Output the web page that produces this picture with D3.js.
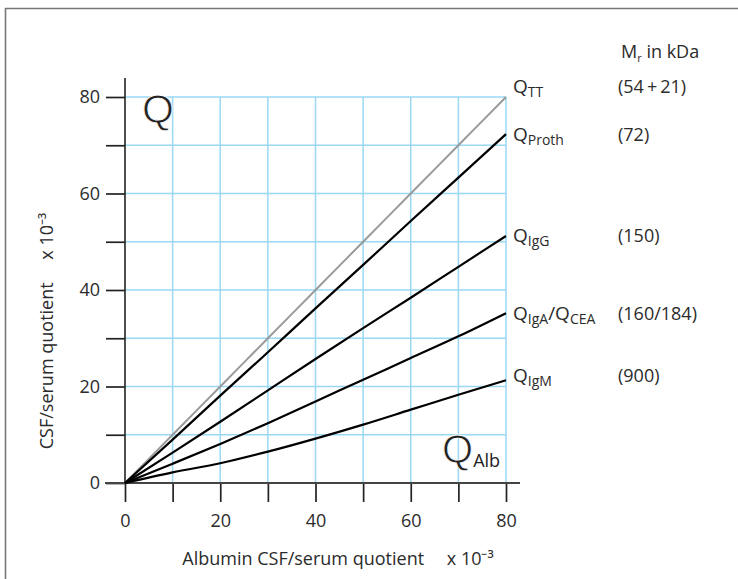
<!DOCTYPE html>
<html>
<head>
<meta charset="utf-8">
<script src="https://cdn.jsdelivr.net/npm/d3@7"></script>
<style>
  body { margin: 0; background: #fff; }
  text { font-family: "Open Sans", sans-serif; fill: #2b2b2b; }
</style>
</head>
<body>
<svg id="chart"></svg>
<script>
// albumin quotient (x 10^-3) where each curve was read
var qAlb = [0, 10, 20, 30, 40, 50, 60, 70, 80];

// protein quotients (x 10^-3)
var qTT    = [0, 10, 20, 30, 40, 50, 60, 70, 80];
var qProth = [0, 9.0, 18.1, 27.1, 36.2, 45.2, 54.3, 63.3, 72.3];
var qIgG   = [0, 6.3, 12.7, 19.2, 25.7, 32.1, 38.4, 44.8, 51.2];
var qIgA   = [0, 4.0, 8.1, 12.4, 16.9, 21.4, 25.9, 30.4, 35.2];
var qIgM   = [0, 2.2, 4.1, 6.5, 9.2, 12.1, 15.2, 18.3, 21.3];

var seriesNames = ["TT", "Proth", "IgG", "IgA", "IgM"];
var molWeights  = ["(54\u2009+\u200921)", "(72)", "(150)", "(160/184)", "(900)"];
var tickValues  = [0, 10, 20, 30, 40, 50, 60, 70, 80];

var svgWidth = 738;
var svgHeight = 579;

var svg = d3.select('#chart')
    .attr('width', svgWidth)
    .attr('height', svgHeight);

var x = d3.scaleLinear().domain([0, 80]).range([125, 506]);
var y = d3.scaleLinear().domain([0, 80]).range([483, 97]);

// frame (top and left edge only)
svg.append('path')
    .attr('d', 'M5.5,' + svgHeight + 'V8.5H' + svgWidth)
    .attr('fill', 'none')
    .attr('stroke', '#777')
    .attr('stroke-width', 1.6);

// light blue grid
var gridVals = tickValues.filter(function(d) { return d > 0; });
svg.selectAll('.vgrid').data(gridVals).enter().append('line')
    .attr('x1', function(d) { return x(d); })
    .attr('x2', function(d) { return x(d); })
    .attr('y1', y(0))
    .attr('y2', y(80))
    .attr('stroke', '#9ad8f3')
    .attr('stroke-width', 1.5);
svg.selectAll('.hgrid').data(gridVals).enter().append('line')
    .attr('y1', function(d) { return y(d); })
    .attr('y2', function(d) { return y(d); })
    .attr('x1', x(0))
    .attr('x2', x(80))
    .attr('stroke', '#9ad8f3')
    .attr('stroke-width', 1.5);

// axes
var fmt = function(d) { return d % 20 === 0 ? d : ''; };

var xAxis = svg.append('g')
    .attr('transform', 'translate(0,' + y(0) + ')')
    .call(d3.axisBottom(x).tickValues(tickValues).tickFormat(fmt)
        .tickSizeInner(19).tickSizeOuter(0).tickPadding(12));

var yAxis = svg.append('g')
    .attr('transform', 'translate(' + x(0) + ',0)')
    .call(d3.axisLeft(y).tickValues(tickValues).tickFormat(fmt)
        .tickSizeInner(19).tickSizeOuter(0).tickPadding(6));

[xAxis, yAxis].forEach(function(g) {
    g.select('.domain').remove();
    g.selectAll('.tick line').attr('stroke', '#222').attr('stroke-width', 1.7);
    g.selectAll('.tick text')
        .style('font-family', '"Open Sans", sans-serif')
        .style('font-size', '18px')
        .attr('fill', '#2b2b2b');
});

// axis lines run a bit past the plot
svg.append('line')
    .attr('x1', x(0) - 20).attr('x2', x(80) + 14)
    .attr('y1', y(0)).attr('y2', y(0))
    .attr('stroke', '#444').attr('stroke-width', 2.2);
svg.append('line')
    .attr('x1', x(0)).attr('x2', x(0))
    .attr('y1', y(0)).attr('y2', y(80) - 19)
    .attr('stroke', '#222').attr('stroke-width', 1.6);

// curves
var allSeries = [qTT, qProth, qIgG, qIgA, qIgM];
var line = d3.line()
    .x(function(d, i) { return x(qAlb[i]); })
    .y(function(d) { return y(d); })
    .curve(d3.curveMonotoneX);

svg.selectAll('.curve').data(allSeries).enter().append('path')
    .attr('d', line)
    .attr('fill', 'none')
    .attr('stroke', function(d, i) { return i === 0 ? '#9a9a9a' : '#000'; })
    .attr('stroke-width', function(d, i) { return i === 0 ? 2 : 2.2; });

// curve labels and molecular weights
var labelNudge = [-4, 7, 6, 7, 2];
var labels = svg.selectAll('.lab').data(allSeries).enter().append('text')
    .attr('x', x(80) + 7)
    .attr('y', function(d, i) { return y(d[d.length - 1]) + labelNudge[i]; })
    .style('font-size', '19px');
labels.append('tspan').text('Q');
labels.append('tspan')
    .attr('dy', 4)
    .style('font-size', '14px')
    .text(function(d, i) { return seriesNames[i]; });
// second quotient for the IgA row
var igaLabel = labels.filter(function(d, i) { return i === 3; });
igaLabel.append('tspan').attr('dy', -4).text('/Q');
igaLabel.append('tspan').attr('dy', 4).style('font-size', '14px').text('CEA');

svg.selectAll('.mw').data(allSeries).enter().append('text')
    .attr('x', 618)
    .attr('y', function(d, i) { return y(d[d.length - 1]) + labelNudge[i]; })
    .style('font-size', '18px')
    .text(function(d, i) { return molWeights[i]; });

var mr = svg.append('text').attr('x', 621).attr('y', 58).style('font-size', '18px');
mr.append('tspan').text('M');
mr.append('tspan').attr('dy', 4).style('font-size', '11px').text('r');
mr.append('tspan').attr('dy', -4).text(' in kDa');

// big Q markers (white stroke thins the glyphs)
svg.append('text')
    .attr('x', 142).attr('y', 123)
    .style('font-family', '"Liberation Sans Narrow", sans-serif')
    .style('font-size', '41px').style('fill', '#222')
    .style('stroke', '#fff').style('stroke-width', 0.9)
    .text('Q');
var qalb = svg.append('text')
    .attr('x', 442).attr('y', 463)
    .style('font-family', '"Liberation Sans Narrow", sans-serif')
    .style('font-size', '40px').style('fill', '#222');
qalb.append('tspan').text('Q')
    .style('stroke', '#fff').style('stroke-width', 0.9);
qalb.append('tspan').attr('dy', 4)
    .style('font-family', '"Open Sans", sans-serif')
    .style('font-size', '18px').text('Alb');

// axis titles
svg.append('text')
    .attr('x', 338).attr('y', 565)
    .attr('text-anchor', 'middle')
    .style('font-size', '18px')
    .text('Albumin CSF/serum quotient\u2003 x 10\u207B\u00B3');

svg.append('text')
    .attr('transform', 'translate(53,331) rotate(-90)')
    .attr('text-anchor', 'middle')
    .style('font-size', '18px')
    .text('CSF/serum quotient\u2003 x 10\u207B\u00B3');
</script>
</body>
</html>
